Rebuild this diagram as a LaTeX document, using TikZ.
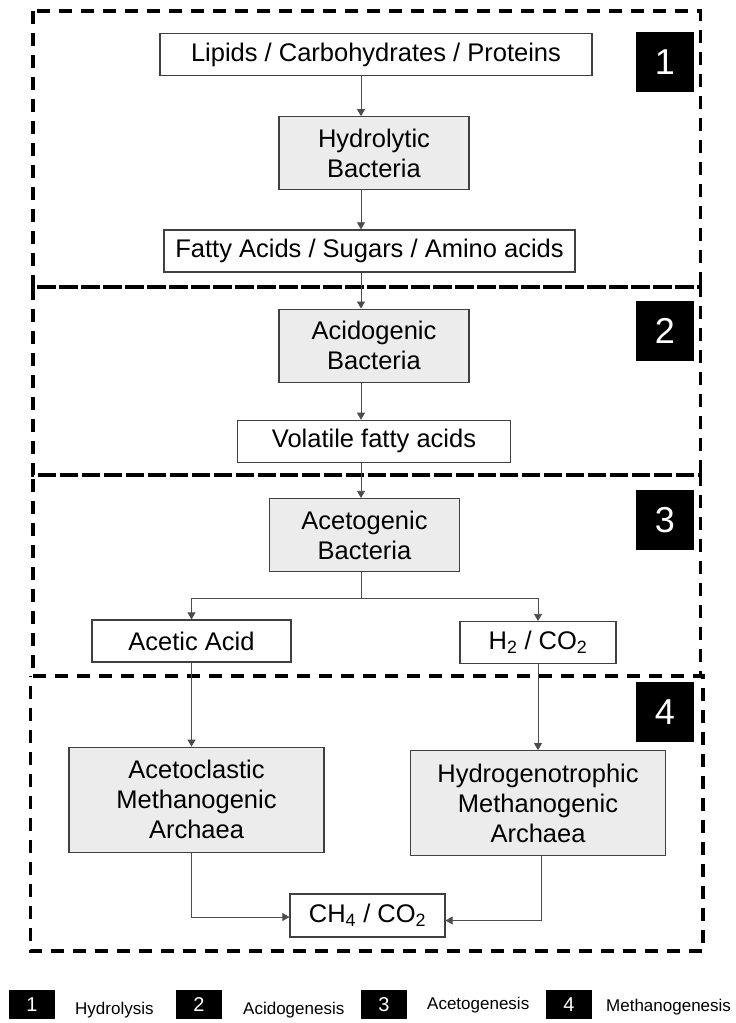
\documentclass[tikz,border=0pt]{standalone}
\usepackage{fontspec}
\setmainfont{Liberation Sans}
\usetikzlibrary{positioning,arrows.meta}

\begin{document}
\begin{tikzpicture}[
    x=1pt, y=-1pt,
    box/.style={draw=black!75, line width=1.2pt, fill=white, minimum height=42pt, inner sep=0pt, font=\fontsize{25.5}{30}\selectfont, align=center},
    microbe/.style={box, fill=gray!15, minimum height=73pt},
    stage/.style={draw=black, dash pattern=on 13pt off 9pt, line width=3.4pt},
    badge/.style={fill=black, text=white, minimum width=58pt, minimum height=60pt, inner sep=0pt, font=\fontsize{36}{36}\selectfont},
    keybadge/.style={fill=black, text=white, minimum width=46pt, minimum height=29pt, inner sep=0pt, font=\fontsize{20}{20}\selectfont},
    keytext/.style={inner sep=0pt, anchor=west, font=\fontsize{17}{17}\selectfont},
    arrow/.style={-{Triangle[length=7pt,width=8pt]}, draw=black!70, line width=0.8pt},
    node distance=40pt
]
\useasboundingbox (0,0) rectangle (736,1023);

% Stage frames
\draw[stage] (33,11) rectangle (700.5,287);
\draw[stage] (33,287) rectangle (700.5,475);
\draw[stage] (33,676) -- (700.5,676) -- (700.5,475) -- (33,475) -- cycle;
\draw[stage, dash phase=19.5pt] (30.5,676) -- (703,676) -- (703,951) -- (30.5,951) -- cycle;

% Stage numbers
\node[badge] (b1) at (665,62) {1};
\node[badge] (b2) at (665,331) {2};
\node[badge] (b3) at (665,520) {3};
\node[badge] (b4) at (665,712) {4};

% Main chain
\coordinate (spine) at (361,0);
\node[box, minimum width=432pt] (lipids) at (376,54.5) {Lipids / Carbohydrates / Proteins};
\node[microbe, minimum width=190pt, below=40pt of lipids, xshift=-2pt] (hydrolytic) {Hydrolytic\\Bacteria};
\node[box, minimum width=411pt, below=39pt of hydrolytic, xshift=-4.5pt] (fatty) {Fatty Acids / Sugars / Amino acids};
\node[microbe, minimum width=190pt, below=36pt of fatty, xshift=4.5pt] (acidogenic) {Acidogenic\\Bacteria};
\node[box, minimum width=273pt, below=37pt of acidogenic] (volatile) {Volatile fatty acids};
\node[microbe, minimum width=190pt, below=35pt of volatile, xshift=-9.5pt] (acetogenic) {Acetogenic\\Bacteria};

% Products and methanogens
\node[box, minimum width=199pt] (acetic) at (191.5,641) {Acetic Acid};
\node[box, minimum width=156pt] (hydrogen) at (538,642.5) {H\textsubscript{2} / CO\textsubscript{2}};
\node[microbe, minimum width=255pt, minimum height=105pt, below=84pt of acetic, xshift=5pt] (acetoclastic) {Acetoclastic\\Methanogenic\\Archaea};
\node[microbe, minimum width=255pt, minimum height=105pt, below=86pt of hydrogen] (hydrogenotrophic) {Hydrogenotrophic\\Methanogenic\\Archaea};
\node[box, minimum width=155pt, minimum height=43pt] (methane) at (367.5,915.5) {CH\textsubscript{4} / CO\textsubscript{2}};

% Arrows
\draw[arrow] (lipids.south -| spine) -- (hydrolytic.north -| spine);
\draw[arrow] (hydrolytic.south -| spine) -- (fatty.north -| spine);
\draw[arrow] (fatty.south -| spine) -- (acidogenic.north -| spine);
\draw[arrow] (acidogenic.south -| spine) -- (volatile.north -| spine);
\draw[arrow] (volatile.south -| spine) -- (acetogenic.north -| spine);
\draw[arrow] (acetogenic.south -| spine) -- ++(0,26) -| (acetic.north);
\draw[arrow] (acetogenic.south -| spine) -- ++(0,26) -| (hydrogen.north);
\draw[arrow] (acetic.south) -- (acetic.south |- acetoclastic.north);
\draw[arrow] (hydrogen.south) -- (hydrogen.south |- hydrogenotrophic.north);
\draw[arrow] (acetoclastic.south -| acetic.south) |- ([yshift=-1.5pt]methane.west);
\draw[arrow] ([xshift=3pt]hydrogenotrophic.south -| hydrogen.south) |- ([yshift=-5pt]methane.east);

% Legend
\node[keybadge] (k1) at (32,1004.5) {1};
\node[keytext] (hydrolysis) at (75,1010) {Hydrolysis};
\node[keybadge] (k2) at (199,1004.5) {2};
\node[keytext] (acidogenesis) at (243,1010) {Acidogenesis};
\node[keybadge] (k3) at (384,1004.5) {3};
\node[keytext] (acetogenesis) at (427,1005.5) {Acetogenesis};
\node[keybadge] (k4) at (569,1004.5) {4};
\node[keytext] (methanogenesis) at (606,1007.5) {Methanogenesis};
\end{tikzpicture}
\end{document}
